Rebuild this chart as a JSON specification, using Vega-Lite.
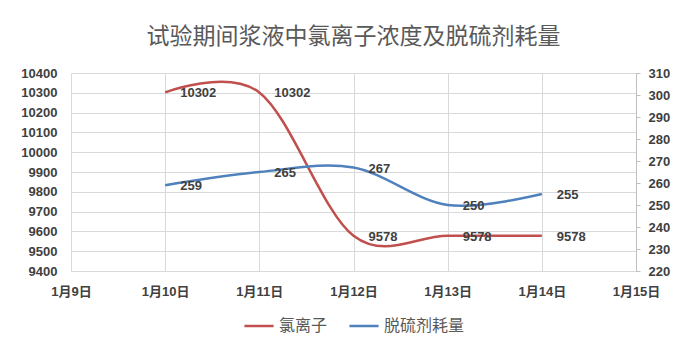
{
  "$schema": "https://vega.github.io/schema/vega-lite/v6.json",
  "width": 565,
  "height": 198,
  "autosize": {"type": "none"},
  "padding": {"left": 71, "top": 73, "right": 51, "bottom": 81},
  "background": "white",
  "title": {
    "text": "试验期间浆液中氯离子浓度及脱硫剂耗量",
    "font": "Noto Sans CJK SC",
    "fontSize": 23,
    "fontWeight": "normal",
    "color": "#595959",
    "anchor": "middle",
    "offset": 18
  },
  "config": {
    "view": {"stroke": null},
    "legend": {"layout": {"bottom": {"anchor": "middle"}}},
    "axis": {
      "labelFont": "Liberation Sans, Noto Sans CJK SC",
      "labelFontSize": 13,
      "labelFontWeight": "bold",
      "labelColor": "#404040",
      "gridColor": "#d9d9d9",
      "gridWidth": 1,
      "title": null
    }
  },
  "data": {
    "values": [
      {"day": 10, "series": "氯离子", "value": 10302},
      {"day": 11, "series": "氯离子", "value": 10302},
      {"day": 12, "series": "氯离子", "value": 9578},
      {"day": 13, "series": "氯离子", "value": 9578},
      {"day": 14, "series": "氯离子", "value": 9578},
      {"day": 10, "series": "脱硫剂耗量", "value": 259},
      {"day": 11, "series": "脱硫剂耗量", "value": 265},
      {"day": 12, "series": "脱硫剂耗量", "value": 267},
      {"day": 13, "series": "脱硫剂耗量", "value": 250},
      {"day": 14, "series": "脱硫剂耗量", "value": 255}
    ]
  },
  "encoding": {
    "x": {
      "field": "day",
      "type": "quantitative",
      "scale": {"domain": [9, 15], "nice": false, "zero": false},
      "axis": {
        "values": [9, 10, 11, 12, 13, 14, 15],
        "labelExpr": "'1月' + datum.value + '日'",
        "labelFlush": false,
        "labelOverlap": false,
        "labelBound": false,
        "grid": true,
        "domain": false,
        "ticks": false,
        "labelPadding": 14
      }
    }
  },
  "layer": [
    {
      "transform": [{"filter": "datum.series === '氯离子'"}],
      "encoding": {
        "y": {
          "field": "value",
          "type": "quantitative",
          "scale": {"domain": [9400, 10400], "nice": false, "zero": false},
          "axis": {
            "orient": "left",
            "format": "d",
            "values": [9400, 9500, 9600, 9700, 9800, 9900, 10000, 10100, 10200, 10300, 10400],
            "grid": true,
            "domain": false,
            "ticks": false,
            "labelFlush": false,
            "labelPadding": 14
          }
        }
      },
      "layer": [
        {
          "mark": {"type": "line", "interpolate": "cardinal", "tension": 0, "strokeWidth": 2.5},
          "encoding": {
            "color": {
              "field": "series",
              "type": "nominal",
              "scale": {"domain": ["氯离子", "脱硫剂耗量"], "range": ["#c0504d", "#4f81bd"]},
              "legend": {
                "title": null,
                "orient": "bottom",
                "direction": "horizontal",
                "symbolType": "stroke",
                "symbolSize": 850,
                "symbolStrokeWidth": 2.5,
                "labelFont": "Noto Sans CJK SC",
                "labelFontSize": 16,
                "labelColor": "#595959",
                "columnPadding": 16,
                "offset": 12
              }
            }
          }
        },
        {
          "mark": {"type": "text", "align": "left", "baseline": "middle", "dx": 15, "dy": 1,
                   "font": "Liberation Sans", "fontSize": 13, "fontWeight": "bold", "color": "#404040"},
          "encoding": {"text": {"field": "value", "type": "quantitative", "format": "d"}}
        }
      ]
    },
    {
      "transform": [{"filter": "datum.series === '脱硫剂耗量'"}],
      "encoding": {
        "y": {
          "field": "value",
          "type": "quantitative",
          "scale": {"domain": [220, 310], "nice": false, "zero": false},
          "axis": {
            "orient": "right",
            "format": "d",
            "values": [220, 230, 240, 250, 260, 270, 280, 290, 300, 310],
            "grid": false,
            "domain": true,
            "domainColor": "#bfbfbf",
            "ticks": true,
            "tickColor": "#bfbfbf",
            "tickSize": 4,
            "labelFlush": false,
            "labelPadding": 8
          }
        }
      },
      "layer": [
        {
          "mark": {"type": "line", "interpolate": "cardinal", "tension": 0, "strokeWidth": 2.5},
          "encoding": {
            "color": {"field": "series", "type": "nominal"}
          }
        },
        {
          "mark": {"type": "text", "align": "left", "baseline": "middle", "dx": 15, "dy": 1,
                   "font": "Liberation Sans", "fontSize": 13, "fontWeight": "bold", "color": "#404040"},
          "encoding": {"text": {"field": "value", "type": "quantitative", "format": "d"}}
        }
      ]
    }
  ],
  "resolve": {"scale": {"y": "independent"}}
}
